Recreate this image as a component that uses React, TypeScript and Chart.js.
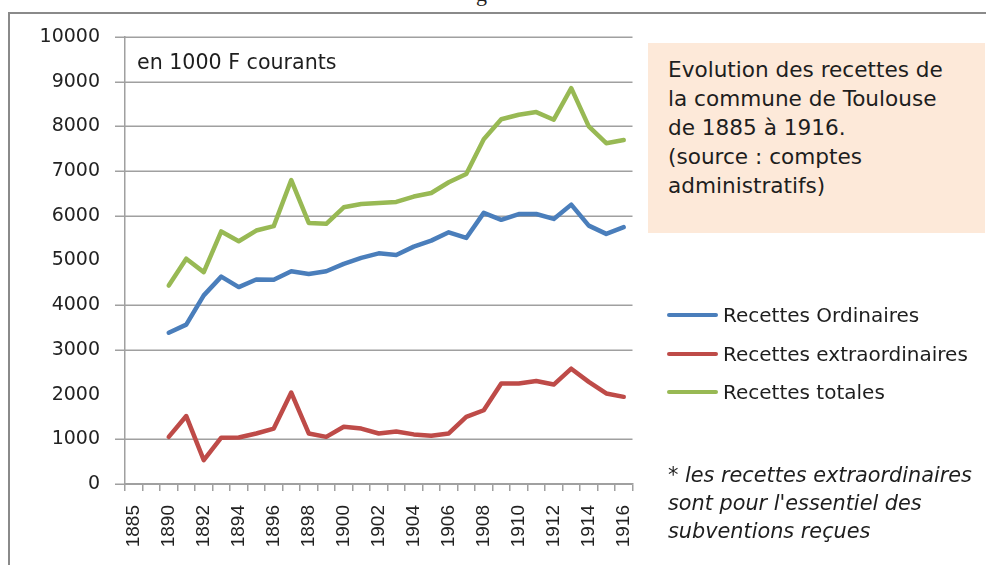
import React, { useEffect, useRef } from "react";
import { Chart, registerables } from "chart.js";

Chart.register(...registerables);

const CATEGORIES = [
  "1885", "", "1890", "1891", "1892", "1893", "1894", "1895", "1896", "1897",
  "1898", "1899", "1900", "1901", "1902", "1903", "1904", "1905", "1906", "1907",
  "1908", "1909", "1910", "1911", "1912", "1913", "1914", "1915", "1916",
];

const ORDINAIRES = [
  null, null, 3385, 3565, 4220, 4640, 4405, 4575, 4570, 4760,
  4700, 4760, 4925, 5060, 5160, 5125, 5310, 5445, 5630, 5505,
  6065, 5910, 6040, 6040, 5930, 6250, 5780, 5595, 5745,
];

const EXTRAORDINAIRES = [
  null, null, 1055, 1520, 535, 1035, 1040, 1130, 1240, 2045,
  1130, 1055, 1280, 1240, 1130, 1175, 1110, 1080, 1130, 1500,
  1650, 2250, 2250, 2305, 2225, 2580, 2285, 2025, 1950,
];

const TOTALES = [
  null, null, 4440, 5040, 4740, 5650, 5430, 5670, 5770, 6800,
  5840, 5820, 6190, 6265, 6285, 6310, 6430, 6510, 6750, 6935,
  7715, 8160, 8260, 8320, 8150, 8855, 8000, 7625, 7695,
];

const Y_TICKS = [0, 1000, 2000, 3000, 4000, 5000, 6000, 7000, 8000, 9000, 10000];
const HIDDEN_GRID_VALUES = [5000, 2000];

const SERIES_NAMES = ["Recettes Ordinaires", "Recettes extraordinaires", "Recettes totales"];
const SERIES_COLORS = ["#4A7EBB", "#BE4B48", "#98B954"];

const TITLE_LINES = [
  "Evolution des recettes de",
  "la commune de Toulouse",
  "de 1885 à 1916.",
  "(source : comptes",
  "administratifs)",
];
const NOTE_LINES = [
  "* les recettes extraordinaires",
  "sont pour l'essentiel des",
  "subventions reçues",
];

const GRID_COLOR = "#a0a0a0";

const yGridPlugin = {
  id: "yGridSelective",
  beforeDatasetsDraw(chart: any) {
    const { ctx, chartArea, scales } = chart;
    const y = scales.y;
    ctx.save();
    ctx.strokeStyle = GRID_COLOR;
    ctx.lineWidth = 1.5;
    Y_TICKS.filter((v) => HIDDEN_GRID_VALUES.indexOf(v) < 0).forEach((v) => {
      const p = Math.round(y.getPixelForValue(v)) + 0.25;
      ctx.beginPath();
      ctx.moveTo(chartArea.left - 10, p);
      ctx.lineTo(chartArea.right, p);
      ctx.stroke();
    });
    ctx.restore();
  },
};

export default function App() {
  const canvasRef = useRef<HTMLCanvasElement | null>(null);

  useEffect(() => {
    const canvas = canvasRef.current;
    if (!canvas) return;
    const chart = new Chart(canvas, {
      type: "line",
      data: {
        labels: CATEGORIES,
        datasets: [
          { label: SERIES_NAMES[0], data: ORDINAIRES, borderColor: SERIES_COLORS[0] },
          { label: SERIES_NAMES[1], data: EXTRAORDINAIRES, borderColor: SERIES_COLORS[1] },
          { label: SERIES_NAMES[2], data: TOTALES, borderColor: SERIES_COLORS[2] },
        ].map((d) => ({
          ...d,
          backgroundColor: d.borderColor,
          borderWidth: 4.5,
          pointRadius: 0,
          tension: 0,
          borderJoinStyle: "round" as const,
          borderCapStyle: "round" as const,
          spanGaps: false,
        })),
      },
      plugins: [yGridPlugin],
      options: {
        animation: false,
        responsive: false,
        devicePixelRatio: 1,
        layout: { padding: { top: 37, right: 353.5, bottom: 0, left: 0 } },
        plugins: { legend: { display: false }, tooltip: { enabled: false } },
        scales: {
          x: {
            type: "category",
            offset: true,
            grid: {
              offset: true,
              drawOnChartArea: false,
              drawTicks: true,
              tickLength: 7,
              color: GRID_COLOR,
              lineWidth: 1.5,
            },
            border: { color: GRID_COLOR, width: 1.5 },
            ticks: {
              autoSkip: false,
              minRotation: 90,
              maxRotation: 90,
              padding: 14,
              color: "#222",
              font: { family: "Liberation Sans", size: 19 },
              callback: (_v: any, i: number) => (i % 2 === 0 ? CATEGORIES[i] : ""),
            },
            afterFit: (s: any) => {
              s.height = 81;
            },
          },
          y: {
            min: 0,
            max: 10000,
            afterBuildTicks: (s: any) => {
              s.ticks = Y_TICKS.map((v) => ({ value: v }));
            },
            grid: {
              display: true,
              drawOnChartArea: false,
              drawTicks: true,
              color: "rgba(0,0,0,0)",
              tickColor: "rgba(0,0,0,0)",
              lineWidth: 0,
              tickLength: 10,
            },
            border: { color: GRID_COLOR, width: 1.5 },
            ticks: {
              padding: 15,
              color: "#222",
              font: { family: "DejaVu Sans", size: 19 },
              callback: (v: any) => String(v),
            },
            afterFit: (s: any) => {
              s.width = 125;
            },
          },
        },
      },
    });
    return () => chart.destroy();
  }, []);

  const textStyle: React.CSSProperties = {
    position: "absolute",
    fontFamily: "DejaVu Sans",
    color: "#1e1e1e",
    whiteSpace: "nowrap",
  };

  return (
    <div
      style={{
        position: "fixed",
        left: 0,
        top: 0,
        width: 986,
        height: 565,
        background: "#fff",
        overflow: "hidden",
      }}
    >
      <div
        style={{
          position: "absolute",
          left: 476,
          top: -17,
          fontFamily: "Liberation Serif",
          fontSize: 22,
          lineHeight: "22px",
          color: "#222",
        }}
      >
        g
      </div>
      <div style={{ position: "absolute", left: 8, top: 12, width: 978, height: 2, background: "#8a8a8a" }} />
      <div style={{ position: "absolute", left: 8, top: 12, width: 2, height: 553, background: "#8a8a8a" }} />
      <canvas
        ref={canvasRef}
        width={986}
        height={565}
        style={{ position: "absolute", left: 0, top: 0, width: 986, height: 565 }}
      />
      <div style={{ ...textStyle, left: 137, top: 50, fontSize: 20.6, lineHeight: "24px" }}>
        en 1000 F courants
      </div>
      <div
        style={{
          position: "absolute",
          left: 648,
          top: 43,
          width: 337,
          height: 190,
          background: "#FDE9D9",
        }}
      />
      <div style={{ ...textStyle, left: 668, top: 55, fontSize: 21.6, lineHeight: "29px" }}>
        {TITLE_LINES.map((l, i) => (
          <div key={i}>{l}</div>
        ))}
      </div>
      {SERIES_NAMES.map((name, i) => (
        <div key={name} style={{ position: "absolute", left: 667, top: 303 + i * 38.5, height: 24 }}>
          <div
            style={{
              position: "absolute",
              left: 0,
              top: 10,
              width: 51,
              height: 4,
              borderRadius: 2,
              background: SERIES_COLORS[i],
            }}
          />
          <div style={{ ...textStyle, left: 56, top: 0, fontSize: 20, lineHeight: "24px" }}>{name}</div>
        </div>
      ))}
      <div
        style={{
          ...textStyle,
          left: 668,
          top: 461,
          fontSize: 20.8,
          lineHeight: "28px",
          fontStyle: "italic",
        }}
      >
        {NOTE_LINES.map((l, i) => (
          <div key={i}>{l}</div>
        ))}
      </div>
    </div>
  );
}
